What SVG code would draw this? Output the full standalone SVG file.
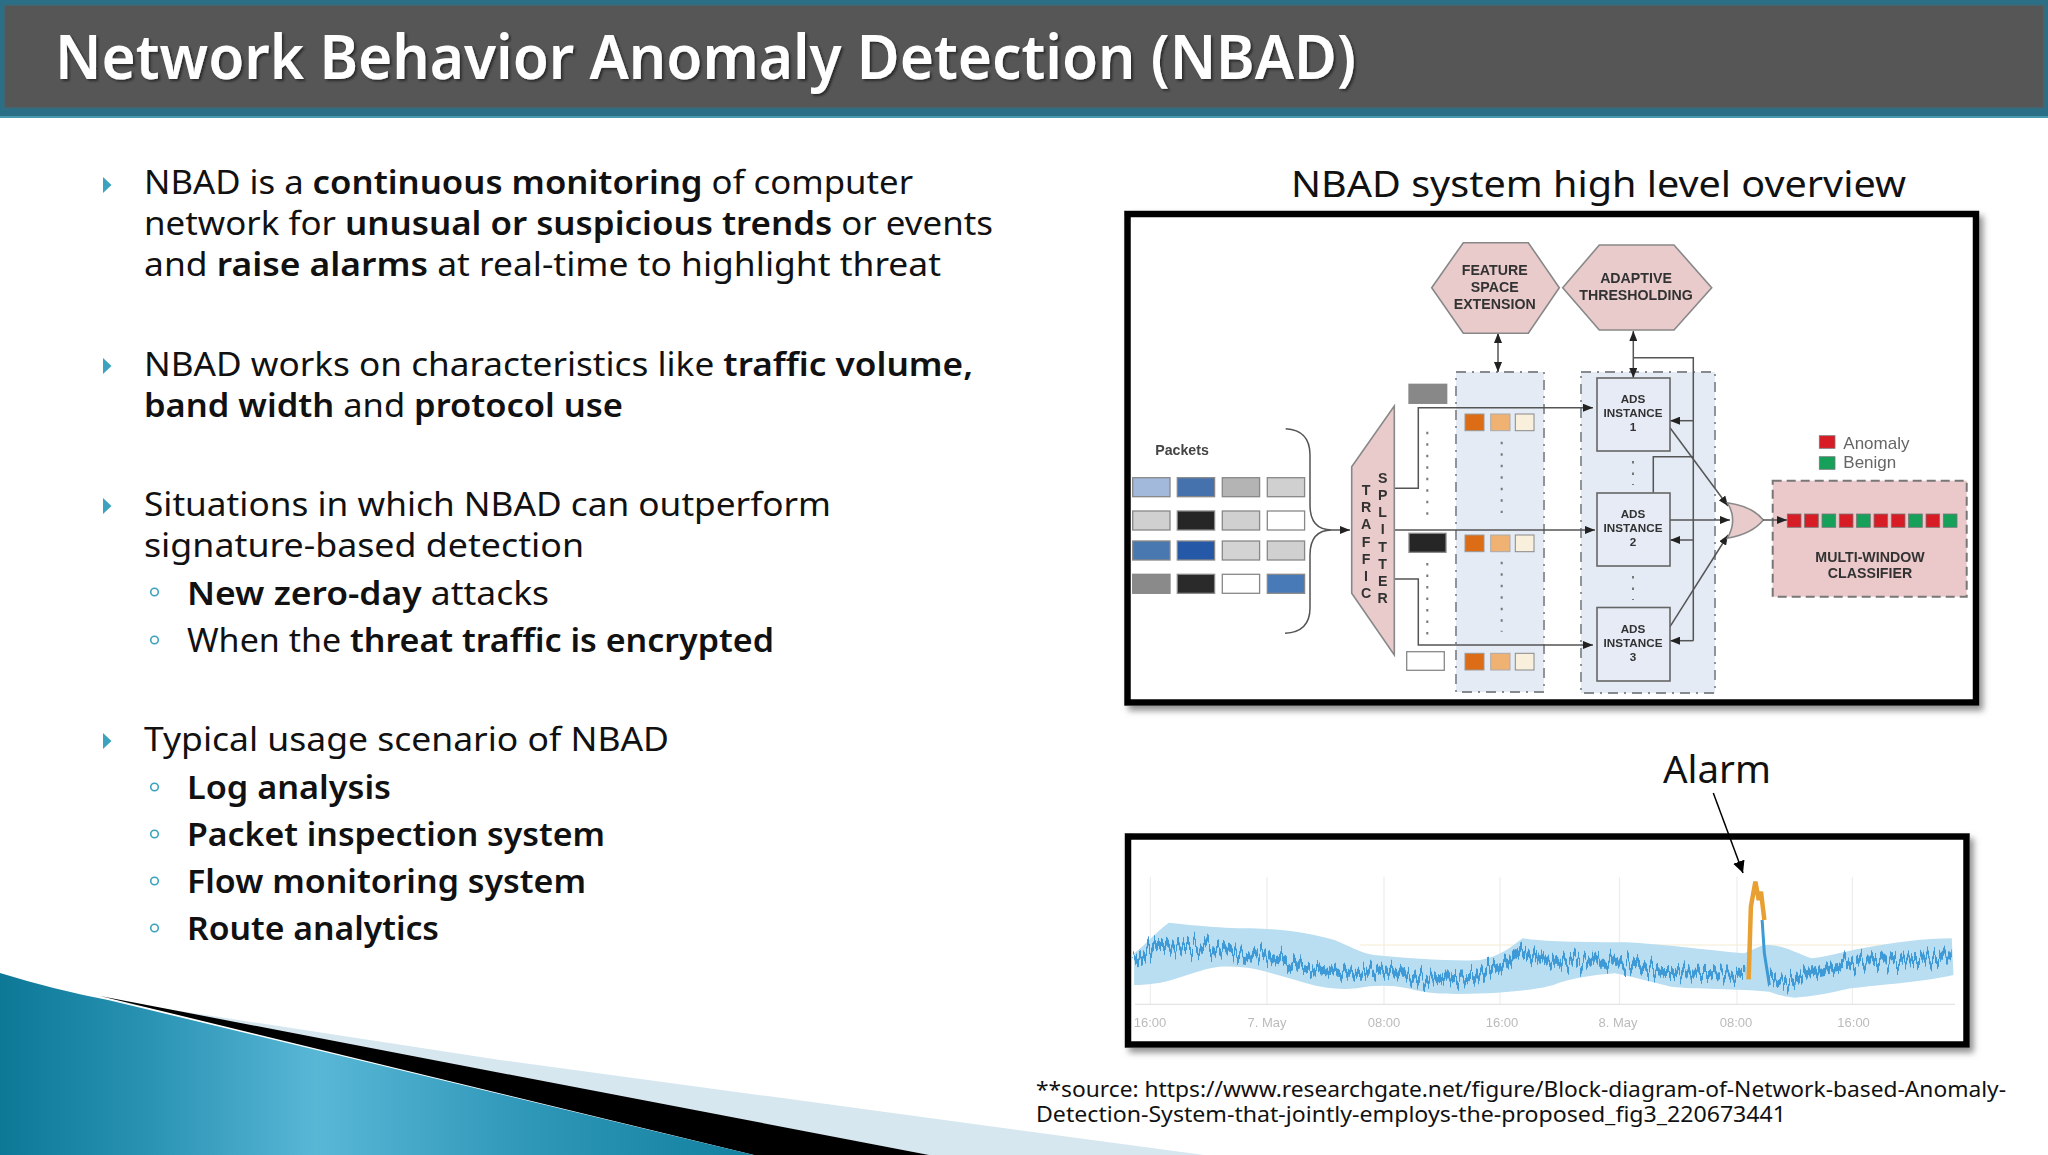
<svg xmlns="http://www.w3.org/2000/svg" width="2048" height="1155" viewBox="0 0 2048 1155">
<style>
.b{font-family:"Noto Sans","Liberation Sans",sans-serif;fill:#111;font-size:33px}
.b tspan.s,.s{font-weight:600}
.h{font-family:"Noto Sans","Liberation Sans",sans-serif;fill:#111}
.d{font-family:"Liberation Sans",Arial,sans-serif;font-weight:700;fill:#333;font-size:14.2px;text-anchor:middle}
.a{font-size:11.7px}
.tri{fill:#3ba3bf}
.sub{fill:none;stroke:#3ba3bf;stroke-width:1.6}
.frame{fill:#fff;stroke:#000;stroke-width:6.5;filter:url(#shadow)}
.panel{fill:#e4ebf5;stroke:#858a90;stroke-width:1.8;stroke-dasharray:10 6 2 6}
.pink{fill:#e9cbcc;stroke:#888;stroke-width:1.6}
.ads{fill:#e7ebf6;stroke:#666;stroke-width:1.6}
.c{fill:none;stroke:#555;stroke-width:1.5}
.arr{marker-end:url(#ah)}
.dbl{marker-end:url(#ah);marker-start:url(#ah)}
.dots{fill:none;stroke:#777;stroke-width:2;stroke-dasharray:2.5 9}
.p{stroke:#888;stroke-width:1.3}
.o1{fill:#dc6c12;stroke:#999;stroke-width:1}
.o2{fill:#f0b272;stroke:#aaa;stroke-width:1}
.o3{fill:#f8f0dd;stroke:#888;stroke-width:1}
.r{fill:#d81f26;stroke:#777;stroke-width:.8}
.g{fill:#16a05a;stroke:#777;stroke-width:.8}
.tick{font-family:"Liberation Sans",Arial,sans-serif;font-size:13px;fill:#bbb;text-anchor:middle}
.grid{stroke:#eee;stroke-width:1.3}
</style>
<defs>
<marker id="ah" markerUnits="userSpaceOnUse" markerWidth="11" markerHeight="8" refX="10" refY="4" orient="auto-start-reverse"><path d="M0 0L10 4L0 8z" fill="#222"/></marker>
<marker id="ak" markerUnits="userSpaceOnUse" markerWidth="13" markerHeight="14" refX="12" refY="6" orient="auto"><path d="M0 0L12 6L0 12z" fill="#000"/></marker>
<filter id="shadow" x="-5%" y="-5%" width="110%" height="112%"><feDropShadow dx="4" dy="5" stdDeviation="3" flood-color="#777" flood-opacity=".8"/></filter>
<filter id="ts" x="-2%" y="-10%" width="104%" height="125%"><feDropShadow dx="2" dy="2" stdDeviation="1.2" flood-color="#222" flood-opacity=".8"/></filter>
<filter id="soft" x="-2%" y="-2%" width="104%" height="104%"><feGaussianBlur stdDeviation=".7"/></filter>
<filter id="noise" filterUnits="userSpaceOnUse" x="1120" y="860" width="850" height="180" color-interpolation-filters="sRGB">
<feTurbulence type="fractalNoise" baseFrequency="0.3 0.003" numOctaves="2" seed="4" result="n"/>
<feColorMatrix in="n" type="matrix" values="0 0 0 0 .5  1.8 0 0 0 -.4  0 0 0 0 .5  0 0 0 0 1" result="m"/>
<feDisplacementMap in="SourceGraphic" in2="m" scale="22" xChannelSelector="R" yChannelSelector="G"/>
</filter>
<linearGradient id="sw" gradientUnits="userSpaceOnUse" x1="0" y1="0" x2="754" y2="0"><stop offset="0" stop-color="#0c7896"/><stop offset=".2" stop-color="#2a93b4"/><stop offset=".42" stop-color="#59b7d6"/><stop offset=".7" stop-color="#2f97b8"/><stop offset="1" stop-color="#12809f"/></linearGradient>
</defs>
<rect width="2048" height="1155" fill="#fff"/>
<g id="footer">
<path d="M108 1000L500 1060L1204 1155H929z" fill="#d6e7f0"/>
<path d="M100 996L929 1155H754z" fill="#000"/>
<path d="M0 973Q55 990 108 1000L754 1155H0z" fill="url(#sw)"/>
</g>
<g id="header">
<rect width="2048" height="117" fill="#2a6f86"/>
<rect x="4" y="5" width="2040" height="103" fill="#565656" stroke="#3c6a78" stroke-width="1.5"/>
<rect y="116" width="2048" height="2" fill="#4a98ae"/>
<text x="55" y="79" font-family="'Noto Sans','Liberation Sans',sans-serif" font-size="61" font-weight="600" fill="#fff" textLength="1301" lengthAdjust="spacingAndGlyphs" filter="url(#ts)">Network Behavior Anomaly Detection (NBAD)</text>
</g>
<g id="body">
<path class="tri" d="M103 177L111.500 185L103 193z"/>
<text class="b" x="144" y="194" textLength="769" lengthAdjust="spacingAndGlyphs">NBAD is a <tspan class="s">continuous monitoring</tspan> of computer</text>
<text class="b" x="144" y="235" textLength="849" lengthAdjust="spacingAndGlyphs">network for <tspan class="s">unusual or suspicious trends</tspan> or events</text>
<text class="b" x="144" y="276" textLength="797" lengthAdjust="spacingAndGlyphs">and <tspan class="s">raise alarms</tspan> at real-time to highlight threat</text>
<path class="tri" d="M103 358L111.500 366L103 374z"/>
<text class="b" x="144" y="376" textLength="829" lengthAdjust="spacingAndGlyphs">NBAD works on characteristics like <tspan class="s">traffic volume,</tspan></text>
<text class="b" x="144" y="417" textLength="479" lengthAdjust="spacingAndGlyphs"><tspan class="s">band width</tspan> and <tspan class="s">protocol use</tspan></text>
<path class="tri" d="M103 498L111.500 506L103 514z"/>
<text class="b" x="144" y="516" textLength="687" lengthAdjust="spacingAndGlyphs">Situations in which NBAD can outperform</text>
<text class="b" x="144" y="557" textLength="440" lengthAdjust="spacingAndGlyphs">signature-based detection</text>
<circle class="sub" cx="154.500" cy="592" r="3.800"/>
<text class="b" x="187" y="604.700" textLength="362" lengthAdjust="spacingAndGlyphs"><tspan class="s">New zero-day</tspan> attacks</text>
<circle class="sub" cx="154.500" cy="640" r="3.800"/>
<text class="b" x="187" y="652" textLength="587" lengthAdjust="spacingAndGlyphs">When the <tspan class="s">threat traffic is encrypted</tspan></text>
<path class="tri" d="M103 733L111.500 741L103 749z"/>
<text class="b" x="144" y="751" textLength="525" lengthAdjust="spacingAndGlyphs">Typical usage scenario of NBAD</text>
<circle class="sub" cx="154.500" cy="787" r="3.800"/>
<text class="b s" x="187" y="799" textLength="204" lengthAdjust="spacingAndGlyphs">Log analysis</text>
<circle class="sub" cx="154.500" cy="834" r="3.800"/>
<text class="b s" x="187" y="846" textLength="418" lengthAdjust="spacingAndGlyphs">Packet inspection system</text>
<circle class="sub" cx="154.500" cy="881" r="3.800"/>
<text class="b s" x="187" y="893" textLength="399" lengthAdjust="spacingAndGlyphs">Flow monitoring system</text>
<circle class="sub" cx="154.500" cy="928" r="3.800"/>
<text class="b s" x="187" y="940" textLength="252" lengthAdjust="spacingAndGlyphs">Route analytics</text>
</g>
<text id="overview-title" class="h" x="1291" y="197" font-size="37" textLength="615" lengthAdjust="spacingAndGlyphs">NBAD system high level overview</text>
<rect id="overview-frame" class="frame" x="1127.500" y="214" width="848.500" height="488.500"/>
<g id="overview" filter="url(#soft)">
<g id="panel-features"><rect class="panel" x="1456" y="372" width="88" height="320"/></g>
<g id="panel-ads"><rect class="panel" x="1581" y="372" width="134" height="321"/></g>
<g id="packets">
<text class="d" x="1182" y="455" style="fill:#444">Packets</text>
<g class="p">
<rect x="1132.700" y="477.700" width="37.300" height="19" fill="#a3b9dc"/><rect x="1177.300" y="477.700" width="37.300" height="19" fill="#4472ad"/><rect x="1222.300" y="477.700" width="37.300" height="19" fill="#b4b4b4"/><rect x="1267.300" y="477.700" width="37.300" height="19" fill="#d0d0d0"/>
<rect x="1132.700" y="511" width="37.300" height="19" fill="#d0d0d0"/><rect x="1177.300" y="511" width="37.300" height="19" fill="#252525"/><rect x="1222.300" y="511" width="37.300" height="19" fill="#d0d0d0"/><rect x="1267.300" y="511" width="37.300" height="19" fill="#fff"/>
<rect x="1132.700" y="541" width="37.300" height="19" fill="#4a78b0"/><rect x="1177.300" y="541" width="37.300" height="19" fill="#2559a8"/><rect x="1222.300" y="541" width="37.300" height="19" fill="#d3d3d3"/><rect x="1267.300" y="541" width="37.300" height="19" fill="#d0d0d0"/>
<rect x="1132.700" y="574.300" width="37.300" height="19" fill="#8a8a8a"/><rect x="1177.300" y="574.300" width="37.300" height="19" fill="#2a2a2a"/><rect x="1222.300" y="574.300" width="37.300" height="19" fill="#fff"/><rect x="1267.300" y="574.300" width="37.300" height="19" fill="#4a7ab8"/>
</g>
</g>
<g id="connectors">
<path class="c" d="M1285.700 428.700Q1310 430 1310 455V505Q1310 530 1332 530Q1310 530 1310 555V608Q1310 632 1285 633.300"/>
<path class="c arr" d="M1332 530H1350"/>
<path class="c dbl" d="M1498 333V372"/>
<path class="c dbl" d="M1633.300 331V378"/>
<path class="c arr" d="M1394 488.300H1418.300V407.700H1593"/>
<path class="c arr" d="M1394 530H1595"/>
<path class="c arr" d="M1394 579H1418.300V645H1593"/>
<path class="c" d="M1633.300 357.700H1693.300V640.700"/>
<path class="c arr" d="M1693.300 640.700H1670"/>
<path class="c arr" d="M1693.300 420.700H1670"/>
<path class="c arr" d="M1693.300 540H1670"/>
<path class="c" d="M1653.300 492.700V456.700H1693.300"/>
<path class="c arr" d="M1670 427.700L1728 506"/>
<path class="c arr" d="M1670 520H1730"/>
<path class="c arr" d="M1670 626.700L1728 535"/>
</g>
<g id="dots"><path class="dots" d="M1427.300 431.700V520M1427.300 563V635M1501.700 441.700V513M1501.700 561.700V631.700"/></g>
<g id="feature-space"><path class="pink" d="M1431.700 287.700L1463.300 242.700H1528.300L1559.300 287.700L1528.300 333.300H1463.300z"/><text class="d" x="1494.700" y="275">FEATURE</text><text class="d" x="1494.700" y="292">SPACE</text><text class="d" x="1494.700" y="309">EXTENSION</text></g>
<g id="adaptive"><path class="pink" d="M1562.700 287.700L1599.300 245H1674L1711.700 287.700L1674 330H1599.300z"/><text class="d" x="1636" y="282.700">ADAPTIVE</text><text class="d" x="1636" y="300">THRESHOLDING</text></g>
<g id="splitter"><path class="pink" d="M1351.700 466.700L1394.300 406V655L1351.700 593.300z"/>
<text class="d" y="495"><tspan x="1366">T</tspan><tspan x="1366" dy="17.200">R</tspan><tspan x="1366" dy="17.200">A</tspan><tspan x="1366" dy="17.200">F</tspan><tspan x="1366" dy="17.200">F</tspan><tspan x="1366" dy="17.200">I</tspan><tspan x="1366" dy="17.200">C</tspan></text>
<text class="d" y="482.700"><tspan x="1382.700">S</tspan><tspan x="1382.700" dy="17.200">P</tspan><tspan x="1382.700" dy="17.200">L</tspan><tspan x="1382.700" dy="17.200">I</tspan><tspan x="1382.700" dy="17.200">T</tspan><tspan x="1382.700" dy="17.200">T</tspan><tspan x="1382.700" dy="17.200">E</tspan><tspan x="1382.700" dy="17.200">R</tspan></text></g>
<g id="selected-packets" class="p"><rect x="1409" y="384.300" width="37.700" height="19" fill="#888"/><rect x="1409" y="533.300" width="37" height="19" fill="#252525"/><rect x="1406.700" y="651.700" width="37.600" height="18.600" fill="#fff"/></g>
<g id="features">
<rect class="o1" x="1465" y="414" width="19" height="16.700"/><rect class="o2" x="1490.700" y="414" width="19.300" height="16.700"/><rect class="o3" x="1515.300" y="414" width="18.700" height="16.700"/>
<rect class="o1" x="1465" y="535" width="19" height="16.700"/><rect class="o2" x="1490.700" y="535" width="19.300" height="16.700"/><rect class="o3" x="1515.300" y="535" width="18.700" height="16.700"/>
<rect class="o1" x="1465" y="653.300" width="19" height="16.700"/><rect class="o2" x="1490.700" y="653.300" width="19.300" height="16.700"/><rect class="o3" x="1515.300" y="653.300" width="18.700" height="16.700"/>
</g>
<g id="ads-1"><rect class="ads" x="1597" y="378" width="73" height="73"/><text class="d a" x="1633" y="403">ADS</text><text class="d a" x="1633" y="417">INSTANCE</text><text class="d a" x="1633" y="431">1</text></g>
<g id="ads-2"><rect class="ads" x="1597" y="493" width="73" height="73"/><text class="d a" x="1633" y="518">ADS</text><text class="d a" x="1633" y="532">INSTANCE</text><text class="d a" x="1633" y="546">2</text></g>
<g id="ads-3"><rect class="ads" x="1597" y="607.500" width="73" height="73.500"/><text class="d a" x="1633" y="633">ADS</text><text class="d a" x="1633" y="647">INSTANCE</text><text class="d a" x="1633" y="661">3</text></g>
<path class="dots" d="M1633 461V485M1633 576V600"/>
<g id="gate"><path class="pink" d="M1727.300 502.700Q1752 506 1763.300 520Q1752 534 1727.300 538.300Q1738 520 1727.300 502.700z"/></g>
<g id="classifier">
<rect x="1772.700" y="480.700" width="194" height="116" fill="#ebc9ca" stroke="#777" stroke-width="2" stroke-dasharray="9 5"/>
<path class="c arr" d="M1763 520H1787"/>
<rect class="r" x="1787.300" y="514" width="13.700" height="13.300"/><rect class="r" x="1804.600" y="514" width="13.700" height="13.300"/><rect class="g" x="1822" y="514" width="13.700" height="13.300"/><rect class="r" x="1839.300" y="514" width="13.700" height="13.300"/><rect class="g" x="1856.600" y="514" width="13.700" height="13.300"/><rect class="r" x="1874" y="514" width="13.700" height="13.300"/><rect class="r" x="1891.300" y="514" width="13.700" height="13.300"/><rect class="g" x="1908.600" y="514" width="13.700" height="13.300"/><rect class="r" x="1926" y="514" width="13.700" height="13.300"/><rect class="g" x="1943.300" y="514" width="13.700" height="13.300"/>
<text class="d" x="1870" y="561.700">MULTI-WINDOW</text><text class="d" x="1870" y="577.700">CLASSIFIER</text>
</g>
<g id="legend"><rect class="r" x="1819.300" y="435.700" width="15.700" height="12.600"/><rect class="g" x="1819.300" y="456.700" width="15.700" height="12.600"/>
<text x="1843.300" y="449.300" font-family="'Liberation Sans',sans-serif" font-size="17" fill="#666">Anomaly</text><text x="1843.300" y="467.700" font-family="'Liberation Sans',sans-serif" font-size="17" fill="#666">Benign</text></g>
</g>
<rect id="chart-frame" class="frame" x="1128" y="836.500" width="838.500" height="208"/>
<g id="chart" filter="url(#soft)">
<g class="grid"><path d="M1150.400 876.700V1004M1267 876.700V1004M1384 876.700V1004M1500 876.700V1004M1619.500 876.700V1004M1737 876.700V1004M1852.400 876.700V1004"/></g>
<path d="M1135 1004.300H1955" stroke="#e4e4e4" stroke-width="1.300"/>
<path d="M1360 945H1950" stroke="#f4ecd4" stroke-width="1.200"/>
<path transform="translate(1110 740) scale(.5612 .3333)" fill="#b9def1" d="M43 640C60 620 85 570 105 548C130 552 190 565 250 565C300 567 350 575 400 600C430 620 440 635 470 645C530 655 620 665 660 660C695 650 715 620 735 595C770 605 840 607 920 607C980 612 1060 630 1130 640C1145 630 1160 615 1170 615C1195 612 1225 640 1250 655C1280 650 1320 630 1350 622C1400 608 1450 595 1500 595L1503 705C1450 725 1400 730 1320 745C1280 760 1250 770 1220 773C1195 770 1185 760 1175 755C1120 745 1040 748 1000 740C960 725 930 710 900 700C860 705 820 715 790 735C760 750 700 760 620 762C580 762 560 758 530 745C500 735 470 735 440 745C410 750 380 745 350 730C320 715 290 700 260 688C240 680 215 678 195 680C165 685 125 715 90 728C70 733 55 735 43 735z"/>
<g filter="url(#noise)"><path transform="translate(1110 740) scale(.5612 .3333)" fill="none" stroke="#3d9ad6" stroke-width="8" stroke-linejoin="round" vector-effect="non-scaling-stroke" d="M43 662L80 625L150 620L210 635L280 650L340 680L400 695L500 695L560 720L650 710L700 670L730 640L780 665L900 665L980 695L1132 702M1172 715L1210 725L1260 695L1340 665L1500 652"/></g>
<path transform="translate(1110 740) scale(.5612 .3333)" fill="none" stroke="#3d9ad6" stroke-width="3" vector-effect="non-scaling-stroke" d="M1162 540L1166 640L1175 735"/>
<path transform="translate(1110 740) scale(.5612 .3333)" fill="none" stroke="#e8a030" stroke-width="4.500" vector-effect="non-scaling-stroke" d="M1138 718L1142 500L1150 425L1156 480L1160 455L1166 540"/>
<g><text class="tick" x="1150" y="1026.700">16:00</text><text class="tick" x="1267" y="1026.700">7. May</text><text class="tick" x="1384" y="1026.700">08:00</text><text class="tick" x="1502" y="1026.700">16:00</text><text class="tick" x="1618" y="1026.700">8. May</text><text class="tick" x="1736" y="1026.700">08:00</text><text class="tick" x="1853.600" y="1026.700">16:00</text></g>
</g>
<g id="alarm"><text class="h" x="1663" y="783" font-size="38" textLength="108" lengthAdjust="spacingAndGlyphs">Alarm</text>
<path d="M1713.300 793L1743 873" fill="none" stroke="#000" stroke-width="1.500" marker-end="url(#ak)"/></g>
<g id="source"><text class="h" x="1036" y="1097" font-size="21" textLength="970" lengthAdjust="spacingAndGlyphs">**source: https://www.researchgate.net/figure/Block-diagram-of-Network-based-Anomaly-</text>
<text class="h" x="1036" y="1122" font-size="21" textLength="750" lengthAdjust="spacingAndGlyphs">Detection-System-that-jointly-employs-the-proposed_fig3_220673441</text></g>
</svg>
